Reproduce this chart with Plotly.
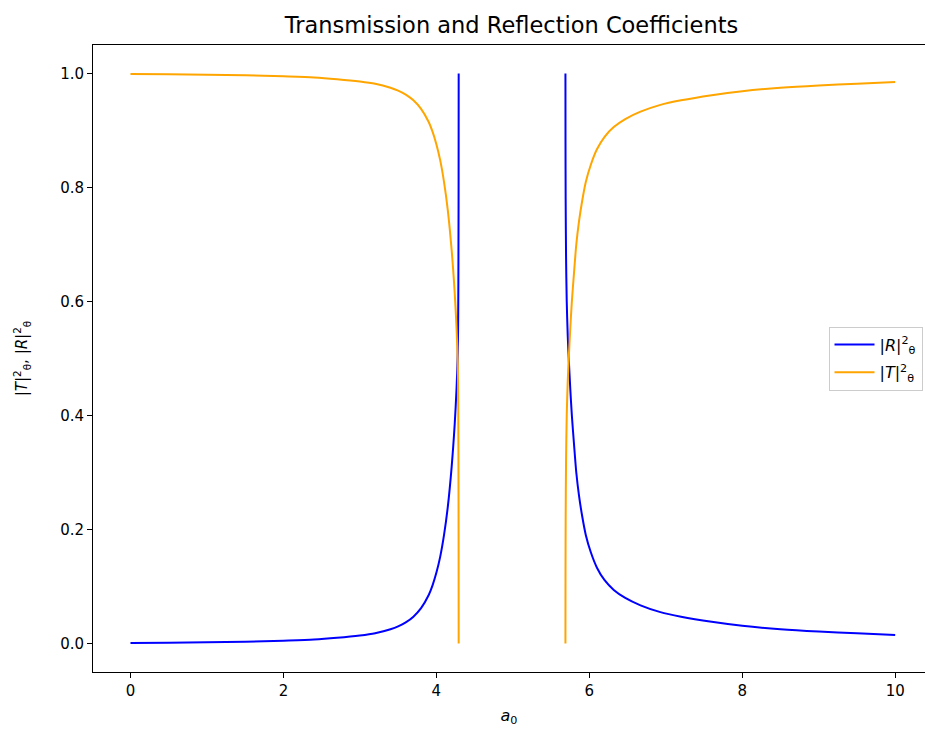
import plotly.graph_objects as go

# Reflection / transmission below the opaque band
a_low = [0.0, 0.5, 1.0, 1.5, 2.0, 2.4, 2.7, 3.0, 3.2, 3.4, 3.5, 3.6, 3.7, 3.8,
         3.9, 3.95, 4.0, 4.05, 4.1, 4.15, 4.2, 4.24, 4.265, 4.28, 4.286, 4.289, 4.291, 4.292]
R_low = [0.001, 0.0015, 0.002, 0.003, 0.005, 0.007, 0.010, 0.014, 0.018, 0.025, 0.030, 0.037, 0.047, 0.062,
         0.085, 0.102, 0.124, 0.152, 0.190, 0.240, 0.310, 0.385, 0.450, 0.510, 0.580, 0.680, 0.820, 1.0]
T_low = [0.999, 0.9985, 0.998, 0.997, 0.995, 0.993, 0.990, 0.986, 0.982, 0.975, 0.970, 0.963, 0.953, 0.938,
         0.915, 0.898, 0.876, 0.848, 0.810, 0.760, 0.690, 0.615, 0.550, 0.490, 0.420, 0.320, 0.180, 0.0]

# Reflection / transmission above the opaque band
a_high = [5.688, 5.689, 5.691, 5.696, 5.705, 5.718, 5.733, 5.75, 5.772, 5.80, 5.83, 5.865, 5.905, 5.955,
          6.02, 6.10, 6.20, 6.32, 6.47, 6.67, 6.93, 7.2, 7.6, 8.0, 8.5, 9.0, 9.5, 10.0]
R_high = [1.0, 0.88, 0.78, 0.68, 0.60, 0.54, 0.495, 0.45, 0.40, 0.35, 0.30, 0.26, 0.225, 0.19,
          0.16, 0.133, 0.111, 0.094, 0.080, 0.067, 0.055, 0.047, 0.038, 0.031, 0.025, 0.021, 0.018, 0.015]
T_high = [0.0, 0.12, 0.22, 0.32, 0.40, 0.46, 0.505, 0.55, 0.60, 0.65, 0.70, 0.74, 0.775, 0.81,
          0.84, 0.867, 0.889, 0.906, 0.920, 0.933, 0.945, 0.953, 0.962, 0.969, 0.975, 0.979, 0.982, 0.985]

x_ticks = [0, 2, 4, 6, 8, 10]
y_ticks = [0.0, 0.2, 0.4, 0.6, 0.8, 1.0]
y_tick_text = ["0.0", "0.2", "0.4", "0.6", "0.8", "1.0"]

BLUE = "#0000ff"
ORANGE = "#ffa500"
FONT = "DejaVu Sans"


def curve(x, y, color, **kw):
    return go.Scatter(x=x, y=y, mode="lines",
                      line=dict(color=color, width=2, shape="spline", smoothing=0.8), **kw)


fig = go.Figure()
fig.add_trace(curve(a_low, R_low, BLUE, name="|<i>R</i>|<sup>2</sup><sub>θ</sub>", legendgroup="R"))
fig.add_trace(curve(a_low, T_low, ORANGE, name="|<i>T</i>|<sup>2</sup><sub>θ</sub>", legendgroup="T"))
fig.add_trace(curve(a_high, R_high, BLUE, showlegend=False, legendgroup="R"))
fig.add_trace(curve(a_high, T_high, ORANGE, showlegend=False, legendgroup="T"))

fig.update_layout(
    width=925, height=729,
    margin=dict(l=93, r=0, t=45, b=57),
    paper_bgcolor="white", plot_bgcolor="white",
    font=dict(family=FONT, size=15, color="black"),
    title=dict(text="Transmission and Reflection Coefficients", x=0.553, xanchor="center",
               y=1 - 25 / 729, yanchor="middle", font=dict(size=22.5, family=FONT, color="black")),
    legend=dict(x=0.997, xanchor="right", y=0.5, yanchor="middle",
                bgcolor="white", bordercolor="#cccccc", borderwidth=1,
                font=dict(size=16, family=FONT), itemwidth=40, tracegroupgap=4),
    xaxis=dict(range=[-0.49, 10.39], tickvals=x_ticks, ticks="outside", ticklen=5, tickcolor="black",
               tickfont=dict(size=15), showline=True, linecolor="black", linewidth=1, mirror=True,
               showgrid=False, zeroline=False,
               title=dict(text="<i>a</i><sub>0</sub>", standoff=10, font=dict(size=16))),
    yaxis=dict(range=[-0.05, 1.05], tickvals=y_ticks, ticktext=y_tick_text, ticks="outside", ticklen=5,
               tickcolor="black", tickfont=dict(size=15), showline=True, linecolor="black", linewidth=1,
               mirror=False, showgrid=False, zeroline=False,
               title=dict(text="|<i>T</i>|<sup>2</sup><sub>θ</sub>, |<i>R</i>|<sup>2</sup><sub>θ</sub>",
                          standoff=28, font=dict(size=15))),
)

fig.write_html("out.html")
